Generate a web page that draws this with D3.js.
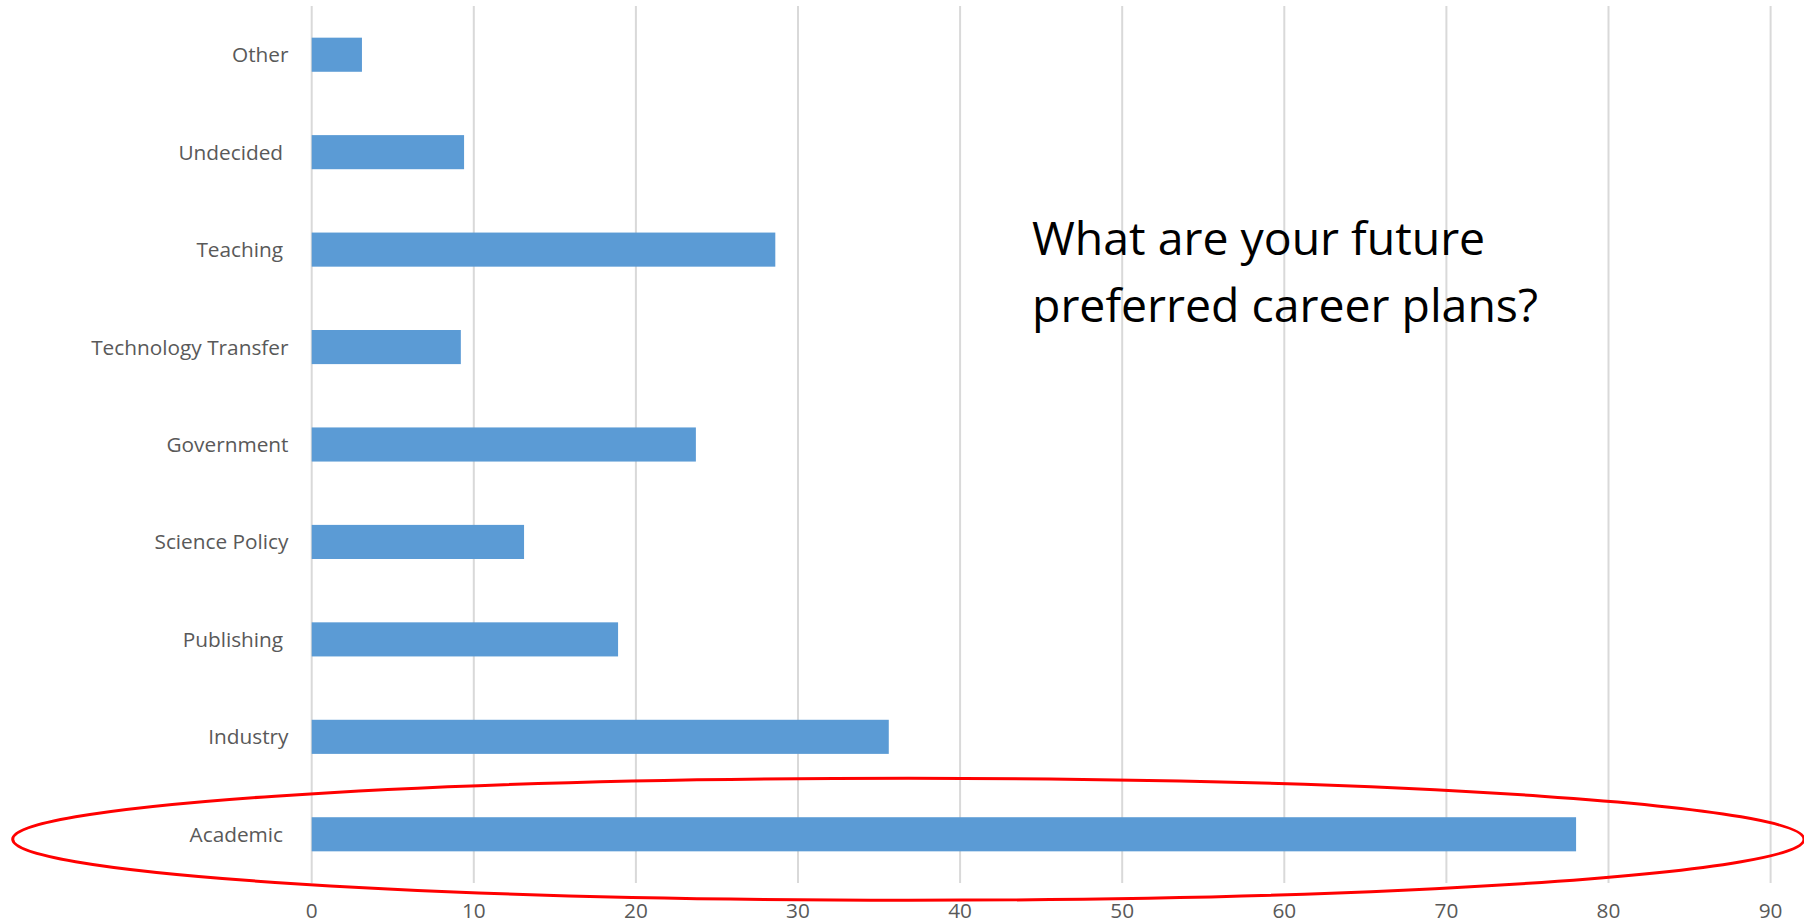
<!DOCTYPE html>
<html>
<head>
<meta charset="utf-8">
<script src="https://cdn.jsdelivr.net/npm/d3@7"></script>
<style>
  html, body { margin: 0; padding: 0; background: #ffffff; }
  svg { display: block; }
  text { font-family: "Open Sans", "Noto Sans", sans-serif; }
</style>
</head>
<body>
<svg id="chart" width="1804" height="924"></svg>
<script>
// Data (top to bottom as in the chart)
const categories = ["Other", "Undecided ", "Teaching ", "Technology Transfer", "Government",
                    "Science Policy", "Publishing ", "Industry", "Academic "];
const values = [3.1, 9.4, 28.6, 9.2, 23.7, 13.1, 18.9, 35.6, 78.0];
const xTicks = [0, 10, 20, 30, 40, 50, 60, 70, 80, 90];
const titleLines = ["What are your future", "preferred career plans?"];
const highlighted = "Academic ";

const W = 1804, H = 924;
const margin = { top: 6, right: 33.4, bottom: 41, left: 311.7 };

const svg = d3.select("#chart");

const x = d3.scaleLinear()
  .domain([0, 90])
  .range([margin.left, W - margin.right]);

const y = d3.scaleBand()
  .domain(categories)
  .range([margin.top, H - margin.bottom])
  .paddingInner(0.65)
  .paddingOuter(0.325);

// Gridlines
svg.append("g")
  .selectAll("line")
  .data(xTicks)
  .join("line")
  .attr("x1", d => x(d)).attr("x2", d => x(d))
  .attr("y1", margin.top).attr("y2", H - margin.bottom)
  .attr("stroke", "#d9d9d9")
  .attr("stroke-width", 2);

// Bars
svg.append("g")
  .selectAll("rect")
  .data(categories.map((c, i) => ({ c, v: values[i] })))
  .join("rect")
  .attr("x", x(0))
  .attr("y", d => y(d.c))
  .attr("width", d => x(d.v) - x(0))
  .attr("height", y.bandwidth())
  .attr("fill", "#5b9bd5");

// Category labels
svg.append("g")
  .selectAll("text")
  .data(categories)
  .join("text")
  .attr("x", x(0) - 23.2)
  .attr("y", d => y(d) + y.bandwidth() / 2)
  .attr("dy", "0.36em")
  .attr("text-anchor", "end")
  .attr("fill", "#595959")
  .attr("font-size", 20.8)
  .style("white-space", "pre")
  .text(d => d);

// X tick labels
svg.append("g")
  .selectAll("text")
  .data(xTicks)
  .join("text")
  .attr("x", d => x(d))
  .attr("y", 918)
  .attr("text-anchor", "middle")
  .attr("fill", "#595959")
  .attr("font-size", 20.8)
  .text(d => d);

// Title text inside plot
const title = svg.append("text")
  .attr("x", 1032)
  .attr("y", 255)
  .attr("fill", "#000000")
  .attr("font-size", 46.4);
title.selectAll("tspan")
  .data(titleLines)
  .join("tspan")
  .attr("x", 1032)
  .attr("dy", (d, i) => i === 0 ? 0 : 67)
  .text(d => d);

// Red ellipse highlighting the Academic bar
const left = 12.7, right = x(90) + 33.4;
svg.append("ellipse")
  .attr("cx", (left + right) / 2)
  .attr("cy", y(highlighted) + y.bandwidth() / 2 + 5)
  .attr("rx", (right - left) / 2)
  .attr("ry", 61)
  .attr("fill", "none")
  .attr("stroke", "#ff0000")
  .attr("stroke-width", 3);
</script>
</body>
</html>
